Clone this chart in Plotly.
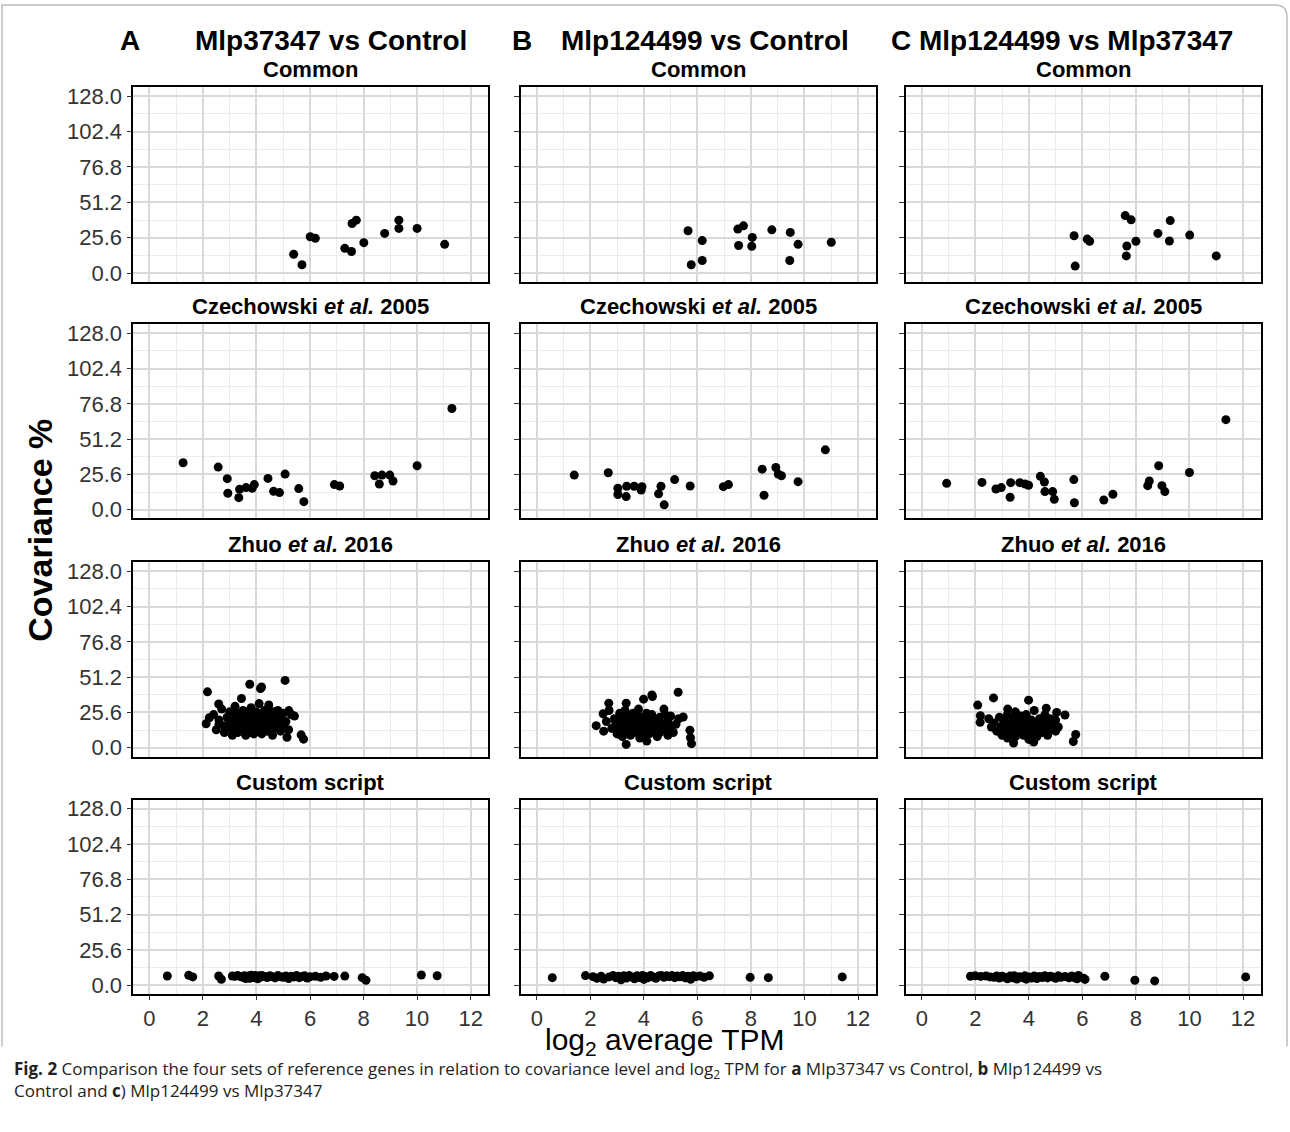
import plotly.graph_objects as go

# ---------------- DATA ----------------
row_titles = ["<b>Common</b>", "<b>Czechowski <i>et al.</i> 2005</b>",
              "<b>Zhuo <i>et al.</i> 2016</b>", "<b>Custom script</b>"]
col_letters = ["A", "B"]
col_headers = ["Mlp37347 vs Control", "Mlp124499 vs Control", "C Mlp124499 vs Mlp37347"]
y_tickvals = [0, 25.6, 51.2, 76.8, 102.4, 128.0]
y_ticktext = ["0.0", "25.6", "51.2", "76.8", "102.4", "128.0"]
x_tickvals = [0, 2, 4, 6, 8, 10, 12]

common_A = [(5.39, 13.6), (5.70, 6.0), (6.01, 26.3), (6.20, 25.1), (7.30, 17.9), (7.55, 15.6),
            (7.57, 35.9), (7.73, 38.3), (8.01, 22.0), (8.79, 28.7), (9.32, 38.3), (9.32, 32.3),
            (10.0, 32.3), (11.03, 20.8)]
common_B = [(5.65, 30.6), (6.18, 23.5), (5.77, 6.0), (6.18, 9.1), (7.51, 31.8), (7.72, 34.2),
            (8.05, 25.8), (7.54, 19.9), (8.03, 19.4), (8.78, 31.3), (9.47, 29.4), (9.76, 20.8),
            (9.45, 9.1), (11.0, 22.3)]
common_C = [(5.69, 27.0), (5.73, 5.0), (6.18, 24.6), (6.27, 23.0), (7.60, 41.6), (7.82, 38.5),
            (7.66, 19.6), (7.64, 12.4), (8.0, 23.0), (8.82, 28.7), (9.28, 38.0), (9.25, 23.2),
            (10.01, 27.5), (11.0, 12.4)]

czech_A = [(1.26, 34.0), (2.57, 30.9), (2.91, 22.5), (2.93, 11.9), (3.37, 14.8), (3.61, 16.0),
           (3.84, 15.5), (3.92, 18.2), (4.43, 22.7), (4.64, 13.3), (4.86, 12.4), (5.07, 25.8),
           (5.58, 15.3), (6.91, 18.2), (7.11, 17.2), (8.42, 24.6), (8.69, 25.1), (8.98, 25.1),
           (8.59, 18.6), (9.10, 20.8), (10.0, 31.9), (11.30, 73.4), (3.34, 8.7), (5.77, 5.8)]
czech_B = [(1.40, 25.1), (2.67, 26.8), (3.03, 15.5), (3.36, 17.0), (3.64, 17.0), (3.93, 16.7),
           (3.90, 14.3), (4.64, 17.0), (5.15, 21.8), (5.73, 17.2), (6.97, 16.7), (7.16, 18.2),
           (8.42, 29.4), (8.93, 30.6), (9.14, 24.6), (9.02, 25.8), (9.76, 20.3), (10.78, 43.4),
           (3.03, 11.0), (3.34, 9.5), (4.55, 11.5), (4.76, 3.5), (8.49, 10.5)]
czech_C = [(0.93, 19.1), (2.25, 19.8), (2.77, 15.0), (2.97, 16.0), (3.32, 19.6), (3.66, 19.6),
           (3.86, 18.6), (3.99, 17.7), (4.43, 24.2), (4.58, 20.1), (4.60, 13.1), (4.89, 13.1),
           (5.68, 21.8), (7.14, 11.2), (8.44, 17.4), (8.50, 20.8), (8.85, 31.9), (8.97, 17.4),
           (9.08, 13.1), (10.0, 27.0), (11.36, 65.3), (3.3, 9.0), (4.95, 7.5), (5.7, 5.0), (6.8, 7.0)]

zhuo_A = [(2.17, 40.5), (3.75, 46.0), (4.15, 42.9), (4.19, 44.0), (5.07, 48.8), (2.59, 31.7),
          (3.44, 35.7), (4.46, 31.0), (5.42, 22.9), (2.12, 17.4), (2.24, 21.7), (5.14, 7.6),
          (5.67, 9.3), (5.76, 6.2), (5.21, 26.9),
          (2.4, 24), (2.5, 13), (2.6, 20), (2.7, 28), (2.8, 16), (2.8, 11), (2.9, 22), (3.0, 18),
          (3.0, 26), (3.1, 13), (3.1, 9), (3.2, 21), (3.2, 30), (3.3, 16), (3.3, 11), (3.4, 24),
          (3.4, 19), (3.5, 14), (3.5, 27), (3.6, 9), (3.6, 21), (3.6, 17), (3.7, 12), (3.7, 25),
          (3.8, 19), (3.8, 29), (3.8, 15), (3.9, 22), (3.9, 10), (4.0, 17), (4.0, 26), (4.0, 13),
          (4.1, 20), (4.1, 32), (4.2, 15), (4.2, 23), (4.2, 10), (4.3, 18), (4.3, 27), (4.4, 12),
          (4.4, 21), (4.5, 16), (4.5, 25), (4.6, 9), (4.6, 19), (4.7, 14), (4.7, 23), (4.8, 17),
          (4.8, 27), (4.9, 12), (4.9, 21), (5.0, 16), (5.0, 25), (5.1, 19), (5.2, 13), (5.3, 24),
          (2.6, 17), (3.35, 13), (3.95, 24), (4.35, 14), (3.15, 17), (3.55, 23), (4.05, 19),
          (3.75, 11), (2.95, 15), (4.65, 26), (3.25, 25), (4.15, 11)]
zhuo_B = [(5.28, 40.2), (4.32, 37.1), (3.99, 35.2), (3.34, 32.3), (2.69, 32.3), (2.48, 24.6),
          (2.22, 16.0), (4.75, 28.0), (5.47, 22.3), (5.72, 12.7), (5.74, 7.2), (5.78, 2.9),
          (3.34, 2.4), (4.11, 4.8), (4.30, 38.3),
          (2.5, 12), (2.6, 19), (2.7, 27), (2.8, 14), (2.9, 21), (3.0, 10), (3.0, 17), (3.1, 25),
          (3.1, 13), (3.2, 20), (3.2, 8), (3.3, 16), (3.3, 27), (3.4, 12), (3.4, 22), (3.5, 18),
          (3.5, 9), (3.6, 25), (3.6, 15), (3.7, 20), (3.7, 11), (3.8, 17), (3.8, 28), (3.9, 13),
          (3.9, 22), (4.0, 8), (4.0, 18), (4.1, 25), (4.1, 14), (4.2, 20), (4.2, 10), (4.3, 16),
          (4.3, 24), (4.4, 12), (4.4, 19), (4.5, 8), (4.5, 15), (4.6, 22), (4.6, 11), (4.7, 17),
          (4.8, 13), (4.8, 24), (4.9, 9), (4.9, 19), (5.0, 14), (5.0, 23), (5.1, 11), (5.2, 17),
          (5.3, 21), (3.25, 14), (3.65, 19), (3.85, 7), (4.05, 21), (3.45, 16), (3.75, 23),
          (4.25, 13), (2.95, 18), (3.55, 12), (4.15, 17), (4.55, 20), (3.15, 22)]
zhuo_C = [(2.09, 30.9), (2.68, 36.1), (3.99, 34.5), (2.19, 23.2), (2.18, 18.4), (3.21, 28.0),
          (4.65, 28.7), (5.04, 25.6), (5.35, 23.7), (5.75, 9.6), (5.66, 4.5), (3.43, 3.4),
          (4.18, 4.1),
          (2.5, 21), (2.6, 15), (2.7, 18), (2.8, 12), (2.9, 22), (3.0, 16), (3.0, 9), (3.1, 19),
          (3.1, 13), (3.2, 24), (3.2, 7), (3.3, 17), (3.3, 11), (3.4, 21), (3.4, 14), (3.5, 26),
          (3.5, 8), (3.6, 18), (3.6, 12), (3.7, 23), (3.7, 15), (3.8, 9), (3.8, 19), (3.9, 13),
          (3.9, 24), (4.0, 16), (4.0, 6), (4.1, 20), (4.1, 11), (4.2, 17), (4.2, 27), (4.3, 13),
          (4.3, 8), (4.4, 21), (4.4, 15), (4.5, 11), (4.5, 19), (4.6, 14), (4.6, 24), (4.7, 17),
          (4.7, 9), (4.8, 21), (4.8, 13), (4.9, 16), (5.0, 12), (5.0, 20), (5.1, 15), (3.25, 14),
          (3.55, 16), (3.85, 14), (4.15, 14), (3.45, 10), (3.95, 19), (4.35, 17), (3.65, 21),
          (2.95, 14), (4.05, 12), (4.55, 16), (3.75, 18)]

custom_A = [(0.67, 6.7), (1.47, 7.2), (1.62, 6.0), (2.59, 6.7), (2.69, 4.3), (3.1, 6.7), (3.2, 6.5),
            (3.3, 7.0), (3.4, 6.2), (3.5, 5.8), (3.55, 6.9), (3.6, 4.8), (3.7, 6.6), (3.75, 5.0),
            (3.8, 7.2), (3.85, 6.0), (3.9, 5.5), (3.95, 7.0), (4.0, 6.3), (4.05, 4.6), (4.1, 6.8),
            (4.15, 5.9), (4.2, 7.1), (4.3, 6.4), (4.4, 5.6), (4.5, 6.9), (4.6, 6.1), (4.7, 5.3),
            (4.8, 7.0), (4.9, 6.2), (5.0, 5.8), (5.1, 6.7), (5.2, 4.9), (5.3, 6.5), (5.4, 6.0),
            (5.5, 7.0), (5.6, 5.5), (5.7, 6.3), (5.8, 6.8), (5.9, 5.2), (6.0, 6.1), (6.2, 6.5),
            (6.4, 5.8), (6.6, 6.7), (6.9, 6.4), (7.3, 6.6), (7.95, 5.5), (8.09, 3.6), (10.16, 7.4),
            (10.75, 6.9)]
custom_B = [(0.58, 5.5), (1.82, 7.0), (2.1, 6.2), (2.25, 5.0), (2.4, 6.5), (2.5, 4.5), (2.7, 6.0),
            (2.85, 7.0), (2.95, 5.5), (3.05, 6.5), (3.15, 4.0), (3.25, 6.8), (3.35, 5.2), (3.45, 7.0),
            (3.55, 6.0), (3.65, 4.6), (3.75, 6.9), (3.85, 5.6), (3.95, 7.1), (4.0, 4.2), (4.05, 6.3),
            (4.15, 5.4), (4.25, 7.0), (4.35, 6.0), (4.45, 5.0), (4.55, 6.6), (4.65, 7.1), (4.75, 5.8),
            (4.85, 6.8), (4.95, 6.2), (5.05, 7.0), (5.15, 5.5), (5.25, 6.7), (5.35, 6.1), (5.45, 7.0),
            (5.55, 5.3), (5.65, 6.5), (5.75, 4.3), (5.85, 6.9), (5.95, 6.2), (6.1, 6.6), (6.25, 5.8),
            (6.45, 6.8), (7.97, 5.7), (8.65, 5.5), (11.41, 6.0)]
custom_C = [(1.82, 6.5), (2.0, 6.8), (2.2, 6.4), (2.4, 6.7), (2.55, 6.0), (2.7, 5.8), (2.8, 6.7),
            (2.9, 5.2), (3.0, 6.5), (3.1, 5.7), (3.2, 4.6), (3.3, 6.6), (3.4, 5.4), (3.45, 6.9),
            (3.55, 4.5), (3.65, 6.2), (3.75, 5.5), (3.85, 6.8), (3.9, 4.4), (4.0, 6.0), (4.1, 5.2),
            (4.2, 6.7), (4.3, 4.8), (4.4, 6.3), (4.5, 5.6), (4.6, 6.9), (4.7, 5.3), (4.8, 6.5),
            (4.9, 6.0), (5.0, 5.0), (5.1, 6.8), (5.2, 5.7), (5.35, 6.3), (5.5, 5.3), (5.6, 6.7),
            (5.7, 5.5), (5.8, 4.6), (5.85, 7.1), (6.05, 5.0), (6.1, 4.2), (6.84, 6.5), (7.96, 3.6),
            (8.70, 3.1), (12.1, 6.0)]

panels = [[common_A, common_B, common_C],
          [czech_A, czech_B, czech_C],
          [zhuo_A, zhuo_B, zhuo_C],
          [custom_A, custom_B, custom_C]]

# ---------------- LAYOUT ----------------
W, H = 1290, 1132
FONT = "Liberation Sans, Arial, Helvetica, sans-serif"
cols_px = [(133.3, 488.3), (520.7, 875.7), (905.7, 1260.7)]
rows_px = [(85.0, 280.6), (323.4, 518.7), (562.9, 758.2), (801.9, 997.2)]
XR = [-0.6, 12.66]
YR = [-6.4, 134.4]

fig = go.Figure()
layout = dict(width=W, height=H, margin=dict(l=0, r=0, t=0, b=0),
              paper_bgcolor="white", plot_bgcolor="white", showlegend=False,
              font=dict(family=FONT, color="#333333"))
annotations = []

for r in range(4):
    for c in range(3):
        i = r * 3 + c + 1
        sfx = "" if i == 1 else str(i)
        pts = panels[r][c]
        fig.add_trace(go.Scatter(x=[p[0] for p in pts], y=[p[1] for p in pts], mode="markers",
                                 marker=dict(color="black", size=9, line=dict(width=0)),
                                 xaxis="x" + sfx, yaxis="y" + sfx, hoverinfo="x+y"))
        l, rr = cols_px[c]
        t, b = rows_px[r]
        bottom = (r == 3)
        layout["xaxis" + sfx] = dict(
            domain=[l / W, rr / W], range=XR, anchor="y" + sfx,
            tickmode="array", tickvals=x_tickvals, ticktext=[str(v) for v in x_tickvals],
            showticklabels=bottom, ticks="outside" if bottom else "", ticklen=4, tickwidth=1.3,
            tickcolor="#333333", tickfont=dict(size=22, color="#333333", family=FONT),
            showline=True, mirror=True, linecolor="black", linewidth=1.6,
            showgrid=True, gridcolor="#d9d9d9", gridwidth=2, zeroline=False,
            minor=dict(tickmode="array", tickvals=[1, 3, 5, 7, 9, 11], showgrid=True,
                       gridcolor="#ebebeb", gridwidth=1, ticks=""))
        layout["yaxis" + sfx] = dict(
            domain=[1 - b / H, 1 - t / H], range=YR, anchor="x" + sfx,
            tickmode="array", tickvals=y_tickvals, ticktext=y_ticktext,
            showticklabels=(c == 0), ticks="outside", ticklen=5, tickwidth=1.3,
            tickcolor="#333333", tickfont=dict(size=22, color="#333333", family=FONT),
            showline=True, mirror=True, linecolor="black", linewidth=1.6,
            showgrid=True, gridcolor="#d9d9d9", gridwidth=2, zeroline=False,
            minor=dict(tickmode="array", tickvals=[12.8, 38.4, 64.0, 89.6, 115.2], showgrid=True,
                       gridcolor="#ebebeb", gridwidth=1, ticks=""))
        annotations.append(dict(text=row_titles[r], x=(l + rr) / 2 / W, y=1 - (t - 18) / H,
                                xref="paper", yref="paper", showarrow=False, xanchor="center",
                                yanchor="middle", font=dict(size=22, color="black", family=FONT)))

# column headers
hdr_font = dict(size=28, color="black", family=FONT)
for txt, xc in [("<b>" + col_letters[0] + "</b>", 130), ("<b>" + col_headers[0] + "</b>", 331),
                ("<b>" + col_letters[1] + "</b>", 522), ("<b>" + col_headers[1] + "</b>", 705),
                ("<b>" + col_headers[2] + "</b>", 1062)]:
    annotations.append(dict(text=txt, x=xc / W, y=1 - 38 / H, xref="paper", yref="paper",
                            showarrow=False, xanchor="center", yanchor="middle", font=hdr_font))

# axis titles
annotations.append(dict(text="<b>Covariance %</b>", x=40 / W, y=1 - 531 / H, xref="paper",
                        yref="paper", showarrow=False, textangle=-90, xanchor="center",
                        yanchor="middle", font=dict(size=34, color="black", family=FONT)))
annotations.append(dict(text="log<sub>2</sub> average TPM", x=665 / W, y=1 - 1045 / H, xref="paper",
                        yref="paper", showarrow=False, xanchor="center", yanchor="middle",
                        font=dict(size=30, color="black", family=FONT)))

# caption
cap_font = dict(size=17, color="#222222", family="Open Sans, Noto Sans, sans-serif")
annotations.append(dict(
    text="<b>Fig. 2</b> Comparison the four sets of reference genes in relation to covariance level and "
         "log<sub>2</sub> TPM for <b>a</b> Mlp37347 vs Control, <b>b</b> Mlp124499 vs",
    x=12 / W, y=1 - 1073 / H, xref="paper", yref="paper", showarrow=False,
    xanchor="left", yanchor="middle", align="left", font=cap_font))
annotations.append(dict(
    text="Control and <b>c</b>) Mlp124499 vs Mlp37347",
    x=12 / W, y=1 - 1094 / H, xref="paper", yref="paper", showarrow=False,
    xanchor="left", yanchor="middle", align="left", font=cap_font))

layout["annotations"] = annotations

# outer frame (rounded top-right corner)
x0, y0, x1, y1, rad = 2 / W, 1 - 1050 / H, 1287 / W, 1 - 2 / H, 12
path = (f"M {x0},{y0} L {x0},{y1} L {(1287 - rad) / W},{y1} "
        f"Q {x1},{y1} {x1},{1 - (2 + rad) / H} L {x1},{y0}")
layout["shapes"] = [dict(type="path", path=path, xref="paper", yref="paper",
                         line=dict(color="#bdbdbd", width=1.5))]

fig.update_layout(**layout)
fig.write_html("out.html", config={"displayModeBar": False},
               post_script="document.body.style.margin='0';document.body.style.overflow='hidden';")
